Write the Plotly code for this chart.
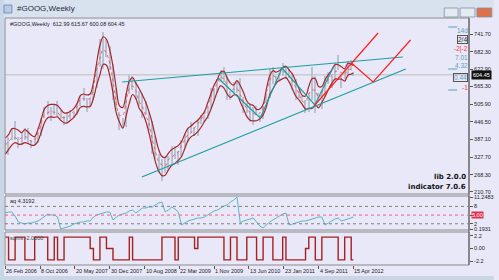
import pandas as pd
import plotly.graph_objects as go

# ---------------- data ----------------
dates = list(pd.date_range('2006-02-26', periods=107, freq='21D')) + [pd.Timestamp('2012-04-15')]

close = [370, 365, 410, 395, 375, 390, 415, 385, 375, 380, 400, 445, 475, 490, 465, 490, 480, 465, 445, 470,
         475, 470, 500, 522, 545, 505, 515, 560, 610, 700, 670, 700, 660, 570, 520, 440, 445, 520, 575, 580,
         545, 530, 470, 495, 440, 390, 340, 310, 285, 310, 300, 350, 330, 335, 370, 395, 395, 420, 415, 445,
         460, 460, 495, 550, 550, 580, 595, 620, 550, 540, 565, 565, 545, 505, 490, 475, 470, 480, 460, 490,
         530, 615, 600, 590, 600, 625, 615, 600, 580, 570, 535, 520, 490, 530, 600, 530, 525, 525, 585, 600,
         580, 625, 640, 585, 610, 620, 640, 604.45]
high = [390, 395, 425, 450, 395, 410, 425, 425, 385, 395, 410, 460, 495, 515, 495, 505, 515, 485, 465, 480,
        485, 480, 510, 535, 560, 525, 525, 570, 640, 725, 747, 725, 700, 640, 560, 480, 460, 545, 605, 600,
        580, 550, 545, 515, 480, 450, 400, 340, 320, 330, 330, 365, 365, 350, 385, 405, 425, 445, 430, 455,
        470, 470, 500, 560, 560, 590, 620, 630, 600, 550, 580, 580, 595, 530, 510, 510, 495, 500, 470, 500,
        545, 625, 630, 600, 610, 645, 630, 625, 605, 590, 550, 535, 520, 545, 630, 600, 545, 550, 600, 615,
        600, 645, 670, 600, 625, 650, 655, 615.67]
low = [340, 335, 385, 385, 360, 370, 385, 375, 360, 370, 375, 400, 460, 470, 450, 470, 465, 455, 435, 440,
       455, 460, 470, 500, 515, 480, 495, 520, 560, 630, 625, 665, 620, 520, 490, 420, 425, 430, 540, 555,
       520, 500, 460, 470, 420, 340, 320, 275, 247, 275, 280, 300, 320, 300, 330, 360, 380, 410, 400, 400,
       440, 445, 455, 490, 520, 545, 580, 580, 520, 520, 545, 545, 520, 475, 475, 445, 435, 470, 445, 455,
       510, 525, 575, 570, 585, 600, 590, 595, 555, 520, 525, 515, 475, 480, 520, 475, 515, 490, 530, 575,
       560, 590, 620, 560, 590, 600, 620, 600.08]

aq = [5.72, 6.07, 6.07, 4.68, 2.61, 2.27, 1.92, 2.27, 2.27, 2.61, 2.96, 3.65, 4.68, 5.37, 5.03, 5.03, 4.34,
      0.19, 0.54, 0.89, 1.23, 1.92, 2.27, 2.61, 2.61, 2.96, 2.96, 4.34, 5.03, 5.37, 5.72, 6.07, 6.07, 3.30,
      4.34, 5.03, 5.37, 5.72, 6.41, 6.76, 5.72, 6.76, 7.45, 7.45, 7.79, 7.79, 8.48, 9.18, 9.52, 6.07, 6.76,
      7.79, 7.10, 6.07, 1.58, 2.27, 2.96, 3.30, 3.65, 3.99, 3.99, 4.34, 5.03, 5.72, 6.41, 6.76, 7.45, 8.14,
      8.48, 9.52, 10.21, 11.25, 2.27, 2.96, 3.30, 3.65, 3.99, 2.61, 1.23, 0.54, 1.58, 2.61, 3.30, 3.99, 4.68,
      5.37, 5.72, 1.58, 1.92, 2.27, 2.61, 2.96, 2.96, 3.30, 3.65, 3.99, 4.34, 4.34, 1.58, 2.27, 2.96, 3.65,
      3.99, 2.96, 3.30, 3.65, 3.99, 4.32]

sqms = [2, -2, -2, 2, 2, 2, -2, -2, -2, 2, 2, 2, 2, -2, -2, 2, -2, -2, 2, 2, 2, 2, 2, 2, 2, 2, 0, -2, -2,
        2, 2, 0, 0, -2, -2, -2, -2, -2, 2, -2, -2, -2, -2, -2, -2, -2, -2, -2, 2, 2, 2, 2, -2, 2, 2, 2, 2, 2,
        0, 2, 2, 2, 2, 2, 2, 2, 2, -2, -2, 2, 2, -2, -2, -2, 2, 2, 2, -2, -2, 2, 2, 2, -2, -2, -2, 2, -2, -2,
        -2, -2, -2, -2, 0, 2, 2, -2, -2, 2, 2, 2, 2, 2, -2, -2, 2, 2, -2, -2]

price_ticks = [741.70, 682.30, 622.90, 565.30, 505.90, 446.50, 387.10, 327.70, 268.30, 210.70]
date_ticks = ['2006-02-26', '2006-10-08', '2007-05-20', '2007-12-30', '2008-08-10', '2009-03-22',
              '2009-11-01', '2010-06-13', '2011-01-23', '2011-09-04', '2012-04-15']
date_labels = ['26 Feb 2006', '8 Oct 2006', '20 May 2007', '30 Dec 2007', '10 Aug 2008', '22 Mar 2009',
               '1 Nov 2009', '13 Jun 2010', '23 Jan 2011', '4 Sep 2011', '15 Apr 2012']
aq_ticks = [11.2483, 8, 5, 2, 0.1931]
aq_levels = [8, 2]
aq_mid = 5
sq_ticks = [2.2, 0.0, -2.2]

upper_trend_x = ['2008-03-18', '2013-02-27']
upper_trend_y = [580.4, 664.4]
lower_trend_x = ['2008-07-24', '2013-03-18']
lower_trend_y = [261.1, 624.1]
zig_x = ['2009-11-25', '2010-08-25', '2011-01-12', '2011-08-11', '2011-12-08']
zig_y = [593.8, 459.4, 627.4, 503.0, 630.8]
red1_x = ['2011-08-11', '2012-09-21']
red1_y = [503.0, 745.0]
red2_x = ['2012-04-02', '2012-08-20', '2013-04-18']
red2_y = [644.2, 580.4, 721.5]

# ---------------- derived indicator (centred bands) ----------------
s_close = pd.Series(close).rolling(3, center=True, min_periods=1).mean()
s_high = pd.Series(high).rolling(3, center=True, min_periods=1).mean()
s_low = pd.Series(low).rolling(3, center=True, min_periods=1).mean()

W, H = 499, 280
L, R, T, B = 5, 474, 18, 265


def px(x):
    return (x - L) / (R - L)


def py(y):
    return (B - y) / (B - T)


fig = go.Figure()

# candles (as high-low bars)
fig.add_trace(go.Bar(x=dates, base=low, y=[h - l for h, l in zip(high, low)],
                     width=1.1 * 7 * 86400000, marker=dict(color='#BAC1D2', line_width=0),
                     xaxis='x', yaxis='y', hoverinfo='skip'))
# bands
fig.add_trace(go.Scatter(x=dates, y=s_high, mode='lines', line=dict(color='#A52828', width=1.2, shape='spline'),
                         xaxis='x', yaxis='y'))
fig.add_trace(go.Scatter(x=dates, y=s_low, mode='lines', line=dict(color='#A52828', width=1.2, shape='spline'),
                         xaxis='x', yaxis='y'))
fig.add_trace(go.Scatter(x=dates, y=s_close, mode='lines',
                         line=dict(color='#E05050', width=0.8, dash='dot', shape='spline'),
                         xaxis='x', yaxis='y'))
# trend lines
for xs, ys, col in [(upper_trend_x, upper_trend_y, '#1F9E9E'), (lower_trend_x, lower_trend_y, '#1F9E9E'),
                    (zig_x, zig_y, '#1F9E9E'), (red1_x, red1_y, '#FF2020'), (red2_x, red2_y, '#FF2020')]:
    fig.add_trace(go.Scatter(x=xs, y=ys, mode='lines', line=dict(color=col, width=1.2),
                             xaxis='x', yaxis='y'))

# sub 1
fig.add_trace(go.Scatter(x=dates, y=aq, mode='lines', line=dict(color='#5FB4C0', width=1),
                         xaxis='x', yaxis='y2'))
# sub 2
fig.add_trace(go.Scatter(x=dates, y=sqms, mode='lines', line=dict(color='#A82020', width=1.4, shape='hv'),
                         xaxis='x', yaxis='y3'))

font_small = dict(family='Liberation Sans', size=5.5, color='#222222')

fig.update_layout(
    width=W, height=H, margin=dict(l=L, r=W - R, t=T, b=H - B),
    paper_bgcolor='#E8E8F8', plot_bgcolor='#E8E8F8', showlegend=False, bargap=0,
    xaxis=dict(type='date', range=['2006-02-24', '2014-04-29'], anchor='y3', showgrid=False, zeroline=False,
               tickvals=date_ticks, showticklabels=False, ticks='outside', ticklen=3, tickcolor='#555555',
               showline=False),
    yaxis=dict(domain=[py(194), 1], range=[741.7 - 160 * 3.361, 741.7 + 16 * 3.361], side='right',
               showgrid=False, zeroline=False, tickvals=price_ticks,
               ticktext=['%.2f' % v for v in price_ticks], ticks='outside', ticklen=3,
               tickcolor='#555555', tickfont=font_small, anchor='x'),
    yaxis2=dict(domain=[py(230), py(196)], range=[0.1931 - 1 / 2.895, 11.2483 + 1 / 2.895], side='right',
                showgrid=False, zeroline=False, tickvals=aq_ticks,
                ticktext=['11.2483', '8', '', '2', '0.1931'], ticks='outside', ticklen=3,
                tickcolor='#555555', tickfont=font_small, anchor='x'),
    yaxis3=dict(domain=[0, py(232)], range=[-2.9, 2.9], side='right', showgrid=False, zeroline=False,
                tickvals=sq_ticks, ticktext=['2.2', '0.00', '-2.2'], ticks='outside', ticklen=3,
                tickcolor='#555555', tickfont=font_small, anchor='x'),
)

shapes = []
# window frame / title bar
shapes.append(dict(type='rect', xref='paper', yref='paper', x0=px(0), x1=px(W), y0=py(0), y1=py(17),
                   fillcolor='#D8E2EE', line_width=0, layer='below'))
shapes.append(dict(type='rect', xref='paper', yref='paper', x0=px(0), x1=px(4), y0=py(0), y1=py(H),
                   fillcolor='#C9D6E6', line_width=0, layer='below'))
shapes.append(dict(type='rect', xref='paper', yref='paper', x0=px(0), x1=px(W), y0=py(276), y1=py(H),
                   fillcolor='#C9D6E6', line_width=0, layer='below'))
# window buttons
for x0, x1, col in [(449, 463, '#E4EAF2'), (465, 480, '#E4EAF2'), (482, 497, '#E0704A')]:
    shapes.append(dict(type='rect', xref='paper', yref='paper', x0=px(x0), x1=px(x1), y0=py(8), y1=py(17),
                       fillcolor=col, line=dict(color='#8090A8', width=0.8)))
# icon
shapes.append(dict(type='rect', xref='paper', yref='paper', x0=px(4), x1=px(12), y0=py(5), y1=py(13),
                   fillcolor='#B8CCE4', line=dict(color='#6080A8', width=0.8)))
# panel borders
for y0, y1 in [(18, 194), (196, 230), (232, 265)]:
    shapes.append(dict(type='rect', xref='paper', yref='paper', x0=0, x1=1, y0=py(y1), y1=py(y0),
                       line=dict(color='#8A8A8A', width=1), fillcolor='rgba(0,0,0,0)'))
shapes.append(dict(type='line', xref='paper', yref='paper', x0=1, x1=1, y0=0, y1=1,
                   line=dict(color='#555555', width=1)))
# current price line
shapes.append(dict(type='line', xref='paper', yref='y', x0=0, x1=1, y0=close[-1], y1=close[-1],
                   line=dict(color='#BDBDBD', width=1), layer='below'))
# aq levels
for lv in aq_levels:
    shapes.append(dict(type='line', xref='paper', yref='y2', x0=0, x1=1, y0=lv, y1=lv,
                       line=dict(color='#808080', width=1, dash='dot')))
shapes.append(dict(type='line', xref='paper', yref='y2', x0=0, x1=1, y0=aq_mid, y1=aq_mid,
                   line=dict(color='#F06080', width=1, dash='dot')))
# dashed teal markers on right
for yy in [27, 69, 90]:
    shapes.append(dict(type='line', xref='paper', yref='paper', x0=px(453), x1=px(471), y0=py(yy), y1=py(yy),
                       line=dict(color='#5FA0B0', width=1, dash='dash')))
fig.update_layout(shapes=shapes)

ann = []
ann.append(dict(text='#GOOG,Weekly', x=px(15), y=py(9), xref='paper', yref='paper', xanchor='left',
                yanchor='middle', showarrow=False, font=dict(family='Liberation Sans', size=8, color='#1A2A40')))
ann.append(dict(text='#GOOG,Weekly  612.99 615.67 600.08 604.45', x=px(8), y=py(24), xref='paper',
                yref='paper', xanchor='left', yanchor='middle', showarrow=False,
                font=dict(family='Liberation Sans', size=5.5, color='#222222')))
ann.append(dict(text='aq 4.3192', x=px(8), y=py(201), xref='paper', yref='paper', xanchor='left',
                yanchor='middle', showarrow=False, font=dict(family='Liberation Sans', size=5.5, color='#222222')))
ann.append(dict(text='sqms -2.0000', x=px(8), y=py(238), xref='paper', yref='paper', xanchor='left',
                yanchor='middle', showarrow=False, font=dict(family='Liberation Sans', size=5.5, color='#444444')))
ann.append(dict(text='<b>lib 2.0.0</b>', x=px(473), y=py(177), xref='paper', yref='paper', xanchor='right',
                yanchor='middle', showarrow=False, font=dict(family='DejaVu Sans', size=7, color='#111111')))
ann.append(dict(text='<b>indicator 7.0.6</b>', x=px(473), y=py(187), xref='paper', yref='paper',
                xanchor='right', yanchor='middle', showarrow=False,
                font=dict(family='DejaVu Sans', size=7, color='#111111')))
# current price box
ann.append(dict(text='%.2f' % close[-1], x=1, y=close[-1], xref='paper', yref='y', xanchor='left',
                yanchor='middle', xshift=2, showarrow=False, bgcolor='#111111', borderpad=1,
                font=dict(family='Liberation Sans', size=5.5, color='#FFFFFF')))
ann.append(dict(text='5.00', x=1, y=aq_mid, xref='paper', yref='y2', xanchor='left', yanchor='middle',
                xshift=2, showarrow=False, bgcolor='#E03050', borderpad=0,
                font=dict(family='Liberation Sans', size=5.5, color='#FFFFFF')))
# right-side stats
for txt, yy, col, box in [('14d', 30, '#5F9EB8', False), ('2/4', 39, '#333333', True),
                          ('-2|-2', 49, '#FF3030', False), ('7.01', 58, '#5F9EB8', False),
                          ('4.32', 66, '#5F9EB8', False), ('0.44', 77, '#5F9EB8', True),
                          ('-1', 87, '#FF3030', False)]:
    ann.append(dict(text=txt, x=px(473), y=py(yy), xref='paper', yref='paper', xanchor='right',
                    yanchor='middle', showarrow=False, bordercolor='#555555' if box else 'rgba(0,0,0,0)',
                    borderwidth=1 if box else 0, borderpad=0,
                    font=dict(family='Liberation Sans', size=6.5, color=col)))
# x tick labels (left aligned like the terminal)
for d, t in zip(date_ticks, date_labels):
    ann.append(dict(text=t, x=d, y=py(271), xref='x', yref='paper', xanchor='left', yanchor='middle',
                    showarrow=False, xshift=-1, font=font_small))
fig.update_layout(annotations=ann)

fig.write_html('out.html')
